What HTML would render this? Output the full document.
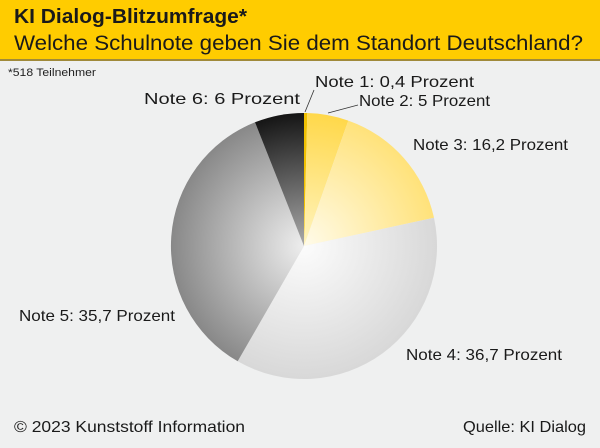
<!DOCTYPE html>
<html><head><meta charset="utf-8"><style>
body{margin:0;width:600px;height:443px;overflow:hidden;background:#eff0f0;font-family:"Liberation Sans",sans-serif}
</style></head><body>
<svg width="600" height="443" xmlns="http://www.w3.org/2000/svg" font-family="Liberation Sans, sans-serif">
<rect x="0" y="0" width="600" height="443" fill="#eff0f0"/>
<rect x="0" y="0" width="600" height="60" fill="#ffcc00"/>
<rect x="0" y="59" width="600" height="2" fill="#a08a3a"/>
<text x="14" y="23" font-size="20" font-weight="bold" fill="#1a1a1a" textLength="233" lengthAdjust="spacingAndGlyphs">KI Dialog-Blitzumfrage*</text>
<text x="14" y="50" font-size="21" fill="#1a1a1a" textLength="569" lengthAdjust="spacingAndGlyphs">Welche Schulnote geben Sie dem Standort Deutschland?</text>
<text x="8" y="76" font-size="11" fill="#222" textLength="88" lengthAdjust="spacingAndGlyphs">*518 Teilnehmer</text>
<defs>
<radialGradient id="g2" gradientUnits="userSpaceOnUse" cx="304" cy="246" r="133"><stop offset="0" stop-color="#fff4c0"/><stop offset="1" stop-color="#ffd84a"/></radialGradient>
<radialGradient id="g3" gradientUnits="userSpaceOnUse" cx="304" cy="246" r="133"><stop offset="0" stop-color="#fffbea"/><stop offset="1" stop-color="#ffe27a"/></radialGradient>
<radialGradient id="g4" gradientUnits="userSpaceOnUse" cx="304" cy="246" r="133"><stop offset="0" stop-color="#fcfcfc"/><stop offset="1" stop-color="#d8d8d8"/></radialGradient>
<radialGradient id="g5" gradientUnits="userSpaceOnUse" cx="304" cy="246" r="133"><stop offset="0" stop-color="#eeeeee"/><stop offset="1" stop-color="#888888"/></radialGradient>
<radialGradient id="g6" gradientUnits="userSpaceOnUse" cx="304" cy="246" r="133"><stop offset="0" stop-color="#aaaaaa"/><stop offset="1" stop-color="#151515"/></radialGradient>
</defs>
<path d="M304,246 L304,113 A133,133 0 0 1 307.3,113 Z" fill="#f0c000"/>
<path d="M304,246 L307.3,113 A133,133 0 0 1 348.3,120.6 Z" fill="url(#g2)"/>
<path d="M304,246 L348.3,120.6 A133,133 0 0 1 434,217.8 Z" fill="url(#g3)"/>
<path d="M304,246 L434,217.8 A133,133 0 0 1 237.7,361.3 Z" fill="url(#g4)"/>
<path d="M304,246 L237.7,361.3 A133,133 0 0 1 255,122.3 Z" fill="url(#g5)"/>
<path d="M304,246 L255,122.3 A133,133 0 0 1 304,113 Z" fill="url(#g6)"/>
<line x1="305" y1="112" x2="314" y2="90" stroke="#333" stroke-width="0.8"/>
<line x1="328" y1="113" x2="358" y2="105" stroke="#333" stroke-width="0.8"/>
<g font-size="16" fill="#1a1a1a">
<text x="315" y="87" textLength="159" lengthAdjust="spacingAndGlyphs">Note 1: 0,4 Prozent</text>
<text x="359" y="106" textLength="131" lengthAdjust="spacingAndGlyphs">Note 2: 5 Prozent</text>
<text x="413" y="150" textLength="155" lengthAdjust="spacingAndGlyphs">Note 3: 16,2 Prozent</text>
<text x="406" y="360" textLength="156" lengthAdjust="spacingAndGlyphs">Note 4: 36,7 Prozent</text>
<text x="19" y="321" textLength="156" lengthAdjust="spacingAndGlyphs">Note 5: 35,7 Prozent</text>
<text x="144" y="104" textLength="156" lengthAdjust="spacingAndGlyphs">Note 6: 6 Prozent</text>
<text x="14" y="432" textLength="231" lengthAdjust="spacingAndGlyphs">© 2023 Kunststoff Information</text>
<text x="463" y="432" textLength="123" lengthAdjust="spacingAndGlyphs">Quelle: KI Dialog</text>
</g>
</svg>
</body></html>
